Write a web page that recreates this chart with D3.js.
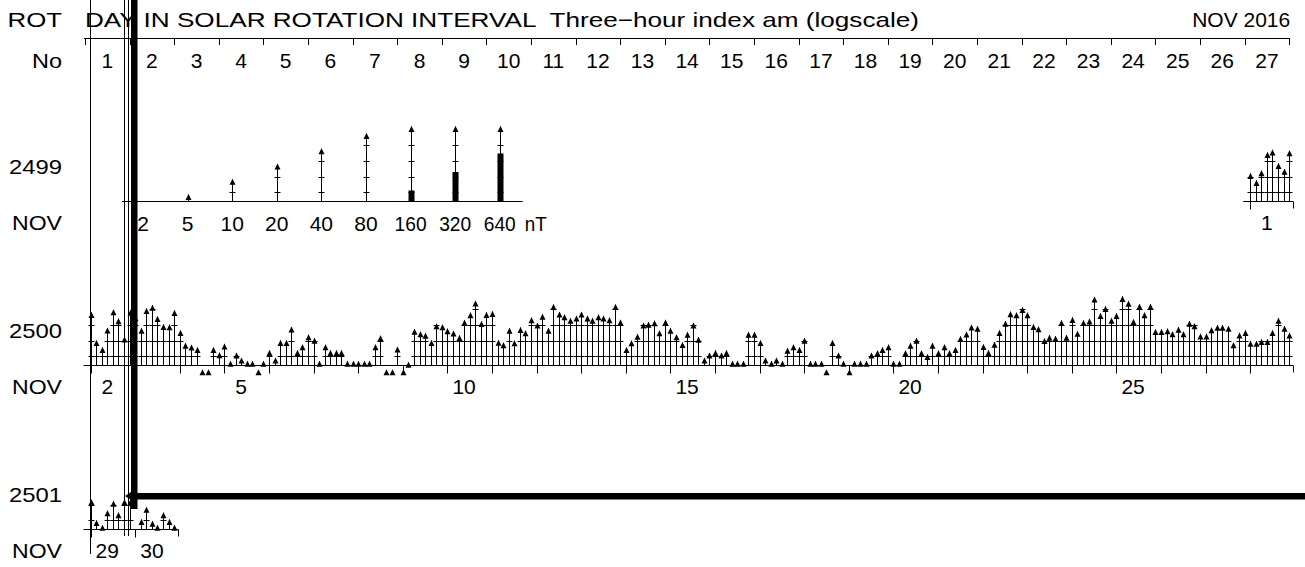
<!DOCTYPE html>
<html><head><meta charset="utf-8">
<script src="https://cdn.jsdelivr.net/npm/d3@7"></script>
<style>
html,body{margin:0;padding:0;background:#fff;}
svg{display:block;}
text{font-family:"Liberation Sans",Arial,Helvetica,sans-serif;font-size:21px;fill:#000;}
</style></head><body>
<svg id="c" width="1305" height="567"></svg>
<script>
// ---------------- DATA ----------------
const titleLeft = "ROT";
const titleMain = "DAY IN SOLAR ROTATION INTERVAL  Three\u2212hour index am (logscale)";
const titleRight = "NOV 2016";
const subLeft = "No";
const monthLabel = "NOV";
const rotationDays = d3.range(1, 28);           // 1..27 column labels
const rotations = ["2499", "2500", "2501"];
const rowStartCol = [26, 0, 0];                 // rotation-day column of first UT day shown
const rowMonthDays = [[1], d3.range(2, 29), [29, 30]];

// am three-hour index values (nT), 8 per UT day
const am2499 = [13.0, 9.5, 14.7, 33.6, 38.0, 20.5, 15.7, 36.5];           // Nov 1
const am2500 = [
  40.6, 11.3, 8.2, 20, 45.6, 30.5, 13.3, 45,        // Nov 2
  35, 19.7, 48.5, 56.5, 33.6, 23.5, 23.3, 44.3,     // Nov 3
  17.9, 10, 9.2, 8.2, 3.0, 3.0, 8.2, 6.5,           // Nov 4
  9.7, 4.4, 6.4, 5.1, 4.4, 4.4, 3.0, 4.4,           // Nov 5
  7.2, 5.1, 11.3, 11.3, 21, 7.2, 9.3, 14.7,         // Nov 6
  12.6, 4.4, 9.3, 7.2, 7.2, 7.2, 4.4, 4.4,          // Nov 7
  4.4, 4.4, 4.4, 9.3, 14, 3.0, 3.0, 8.4,            // Nov 8
  3.0, 4.2, 19, 16.8, 15.7, 11.3, 24.2, 23.1,       // Nov 9
  19.4, 17.4, 14.3, 28.4, 40, 68, 26.9, 40.6,       // Nov 10
  42.5, 11.4, 10.2, 19.7, 11.2, 20.5, 17.6, 32,     // Nov 11
  25, 37.5, 19.7, 58, 41.2, 36.5, 31, 34.6,         // Nov 12
  41.2, 34.6, 31, 36.5, 34.6, 32, 58, 28.9,         // Nov 13
  8.2, 11.2, 15.1, 25, 26.1, 27.7, 17.6, 28.9,      // Nov 14
  19.7, 14.7, 10.4, 16.5, 25, 13.2, 5.1, 6.4,       // Nov 15
  7.2, 6.4, 7.2, 4.4, 4.4, 4.4, 16.5, 16.5,         // Nov 16
  11.3, 5.1, 4.4, 5.1, 4.4, 8.0, 9.3, 8.2,          // Nov 17
  12.6, 4.4, 4.4, 4.4, 3.0, 11.3, 6.4, 4.4,         // Nov 18
  3.0, 4.4, 4.4, 4.4, 6.4, 7.1, 8.2, 9.3,           // Nov 19
  4.4, 4.4, 7.1, 10, 12.6, 7.1, 6.0, 10,            // Nov 20
  7.1, 9.3, 7.1, 8.2, 13.6, 16.7, 22.9, 21.7,       // Nov 21
  9.4, 7.2, 10.5, 17.9, 27.2, 42, 40, 50.9,         // Nov 22
  40, 23.5, 21.1, 12.4, 14.4, 13.8, 28, 14.4,       // Nov 23
  32.4, 17.3, 28, 30.2, 82, 38.7, 53.3, 31.3,       // Nov 24
  38.7, 84, 67.3, 29.3, 59, 40, 59, 18.7,           // Nov 25
  18.7, 19.4, 16.8, 20.7, 16.8, 27.2, 24.2, 15.3,   // Nov 26
  15.3, 20.2, 22.7, 22.7, 21.7, 10.2, 16, 17.9,     // Nov 27
  11, 11, 11.9, 11.9, 17.9, 31.3, 21.7, 16          // Nov 28
];
const am2501 = [14, 5.5, 4.4, 8.5, 13.2, 7.8, 14, 14,     // Nov 29
                null, 5.7, 10, 5.3, 4.4, 7.8, 5.7, 4.4];  // Nov 30
const rowValues = [am2499, am2500, am2501];

const legendValues = [2, 5, 10, 20, 40, 80, 160, 320, 640];
const legendUnit = "nT";
const gridLevels = [5.6, 11.3, 23, 47];   // nT levels marked on each stem

// ---------------- SCALES ----------------
const svg = d3.select("#c");
const X0 = 85, DAYW = 44.6, NDAYS = 27;
const xDay = d3.scaleLinear().domain([0, NDAYS]).range([X0, X0 + NDAYS * DAYW]);
const xBar = g => xDay((g + 1) / 8);                  // g = global 3-hour slot in rotation
const hScale = d3.scaleLog().base(2).domain([5, 80]).range([7, 68]);  // height above baseline
const STEM_MAX = 75;
const barScale = d3.scaleLog().base(2).domain([106, 640]).range([0, 48]).clamp(true);
const rowY = d3.scaleLinear().domain([0, 1]).range([200.5, 364.5]);
const LABEL_R = 62;
const px = v => Math.round(v) + 0.5;

const g = svg.append("g").attr("stroke", "#000").attr("fill", "none").attr("stroke-width", 1);
const tg = svg.append("g");

// stretched label helper (reference glyphs are wider than the installed font)
function label(x, y, txt, anchor, len) {
  const t = tg.append("text").attr("x", x).attr("y", y).attr("text-anchor", anchor || "start").text(txt);
  if (len) t.attr("textLength", len).attr("lengthAdjust", "spacingAndGlyphs");
  return t;
}

// ---------------- HEADER ----------------
label(LABEL_R, 26.5, titleLeft, "end", 54.5);
label(X0, 26.5, titleMain, "start", 834).style("white-space", "pre");
label(xDay(NDAYS) + 1, 26.5, titleRight, "end");
label(LABEL_R, 68, subLeft, "end", 30);

g.append("line").attr("x1", X0 - 1).attr("x2", xDay(NDAYS) + 1).attr("y1", 38.5).attr("y2", 38.5);
d3.range(0, NDAYS + 1).forEach(d => {
  g.append("line").attr("x1", px(xDay(d))).attr("x2", px(xDay(d))).attr("y1", 38.5).attr("y2", 45);
});
rotationDays.forEach((d, i) => label(xDay(i + 0.5), 68, d, "middle"));

// ---------------- ARROW MARK ----------------
function drawArrow(x, base, v) {
  if (v == null) return;
  const h = hScale(v);
  const xs = px(x);
  const stemTop = Math.min(h, STEM_MAX);
  if (stemTop > 0) {
    g.append("line").attr("x1", xs).attr("x2", xs).attr("y1", base).attr("y2", base - stemTop);
  }
  gridLevels.forEach(L => {
    const hl = hScale(L);
    if (hl < stemTop - 1) {
      const y = Math.round(base - hl) + 0.5;
      g.append("line").attr("x1", xs - 3).attr("x2", xs + 3).attr("y1", y).attr("y2", y);
    }
  });
  const tip = base - stemTop;
  svg.append("path").attr("fill", "#000")
    .attr("d", `M${xs},${tip - 0.5} L${xs - 3},${tip + 5.5} L${xs + 3},${tip + 5.5} Z`);
  if (v > barScale.domain()[0]) {
    const bh = barScale(v);
    svg.append("rect").attr("fill", "#000").attr("x", xs - 3).attr("width", 6)
      .attr("y", base - bh).attr("height", bh);
  }
}

// ---------------- ROWS ----------------
rotations.forEach((rot, r) => {
  const base = Math.round(rowY(r)) + 0.5;
  const vals = rowValues[r];
  const g0 = rowStartCol[r] * 8;
  const nB = vals.length;
  label(LABEL_R, base - 27.5, rot, "end", 53);
  label(LABEL_R, base + 28.5, monthLabel, "end", 50);
  const xStart = xBar(g0) - 7, xEnd = xBar(g0 + nB - 1) + 4;
  g.append("line").attr("x1", xStart).attr("x2", xEnd).attr("y1", base).attr("y2", base);
  g.append("line").attr("x1", px(xEnd)).attr("x2", px(xEnd)).attr("y1", base).attr("y2", base + 7);
  rowMonthDays[r].forEach((md, k) => {
    const xt = px(xBar(g0 + 8 * k));
    g.append("line").attr("x1", xt).attr("x2", xt).attr("y1", base).attr("y2", base + 8);
    if (k === 0 || md % 5 === 0) {
      label(xDay(rowStartCol[r] + k + 0.5), base + 28.5, md, "middle");
    }
  });
  vals.forEach((v, i) => drawArrow(xBar(g0 + i), base, v));
});

// ---------------- LEGEND ----------------
const legendX = k => xDay(k + 1.3);
const lb = Math.round(rowY(0)) + 0.5;
g.append("line").attr("x1", legendX(0) - 21).attr("x2", legendX(legendValues.length - 1) + 23)
  .attr("y1", lb).attr("y2", lb);
legendValues.forEach((v, k) => {
  const s = String(v);
  label(legendX(k), lb + 29.5, s, "middle", s.length === 3 ? 32 : null);
  if (hScale(v) > 0) drawArrow(legendX(k), lb, v);
});
label(legendX(legendValues.length - 1) + 25, lb + 29.5, legendUnit, "start", 22);

// ---------------- PLOT ARTEFACTS (overdrawn missing-value marker) ----------------
const b2 = Math.round(rowY(2));
g.append("line").attr("x1", 90.5).attr("x2", 90.5).attr("y1", 0).attr("y2", b2 + 25);
g.append("line").attr("x1", 124.5).attr("x2", 124.5).attr("y1", 0).attr("y2", b2 + 7);
g.append("line").attr("x1", 128.5).attr("x2", 128.5).attr("y1", 0).attr("y2", b2 + 7);
svg.append("rect").attr("fill", "#000").attr("x", 131).attr("y", 0).attr("width", 6.5).attr("height", b2 - 20);
svg.append("rect").attr("fill", "#000").attr("x", 131).attr("y", b2 - 36).attr("width", 1305 - 131).attr("height", 6.5);
svg.append("path").attr("fill", "#000").attr("d", `M125,${b2 - 33} L131,${b2 - 37} L131,${b2 - 29} Z`);
</script>
</body></html>
